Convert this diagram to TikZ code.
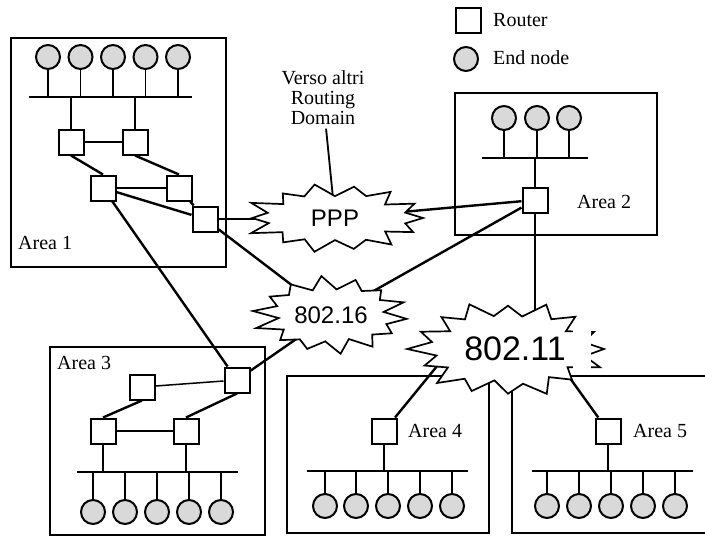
\documentclass[tikz,border=0pt]{standalone}
\usepackage{fontspec}
\setmainfont{Liberation Serif}
\newfontfamily\netfont{Liberation Sans}
\usetikzlibrary{backgrounds}

\begin{document}
\begin{tikzpicture}[x=1pt,y=-1pt,
  router/.style={draw,fill=white,line width=2pt,minimum size=25pt,inner sep=0pt},
  endnode/.style={circle,draw,fill=black!15,line width=2pt,minimum size=24pt,inner sep=0pt},
  areabox/.style={line width=1.6pt},
  label/.style={anchor=west,inner sep=0pt,font=\fontsize{20}{20}\selectfont},
  link/.style={line width=2.4pt},
  thinlink/.style={line width=1.5pt},
  bus/.style={line width=2.8pt},
  stem/.style={line width=1.8pt},
  net/.style={draw,fill=white,line width=1.7pt,line join=miter},
  netname/.style={inner sep=0pt,font=\netfont\fontsize{#1}{#1}\selectfont}]
\useasboundingbox (0,0) rectangle (705,536);

% legend
\node[router] (keyrouter) at (468,20) {};
\node[label] (keyroutertext) at (493,20) {Router};
\node[endnode] (keyend) at (466,59) {};
\node[label] (keyendtext) at (493,58) {End node};

% area 1
\foreach \x [count=\i] in {48,80.5,113,145.5,178}
  \node[endnode] (a1e\i) at (\x,57) {};
\coordinate (bus1w) at (29,97);
\coordinate (bus1e) at (192,97);
\node[router] (a1r1) at (71,142) {};
\node[router] (a1r2) at (135,142) {};
\node[router] (a1r3) at (103,188) {};
\node[router] (a1r4) at (179,188) {};
\node[router] (a1r5) at (205,219) {};
\node[label] (area1) at (18,243) {Area 1};

% area 2
\foreach \x [count=\i] in {504,537,569}
  \node[endnode] (a2e\i) at (\x,118) {};
\coordinate (bus2w) at (482,158);
\coordinate (bus2e) at (588,158);
\node[router] (a2r1) at (535,200) {};
\node[label] (area2) at (577,202) {Area 2};

% area 3
\node[router] (a3r1) at (142,387) {};
\node[router] (a3r2) at (237,380) {};
\node[router] (a3r3) at (103,431) {};
\node[router] (a3r4) at (186,431) {};
\coordinate (bus3w) at (77,472);
\coordinate (bus3e) at (238,472);
\foreach \x [count=\i] in {93,125,157,189,221}
  \node[endnode] (a3e\i) at (\x,512) {};
\node[label] (area3) at (57,363) {Area 3};

% area 4
\node[router] (a4r1) at (384,431) {};
\node[label] (area4) at (408,431) {Area 4};
\coordinate (bus4w) at (307,471);
\coordinate (bus4e) at (468,471);
\foreach \x [count=\i] in {325,356,388,420,452}
  \node[endnode] (a4e\i) at (\x,506) {};

% area 5
\node[router] (a5r1) at (608,431) {};
\node[label] (area5) at (633,431) {Area 5};
\coordinate (bus5w) at (532,471);
\coordinate (bus5e) at (693,471);
\foreach \x [count=\i] in {547,579,611,643,675}
  \node[endnode] (a5e\i) at (\x,506) {};

% networks
\draw[net] plot[samples at={0,...,27}]
  ({335+(88-20*mod(\x,2))*cos(\x*180/14)*(1+0.06*sin(\x*97))},
   {218+(33-10*mod(\x,2))*sin(\x*180/14)*(1+0.06*sin(\x*97))}) -- cycle;
\node[netname=24] (ppp) at (335,218) {PPP};
\draw[net] plot[samples at={0,...,27}]
  ({331+(76-20*mod(\x,2))*cos(\x*180/14+6)*(1+0.06*sin(\x*131))},
   {315+(37-10*mod(\x,2))*sin(\x*180/14+6)*(1+0.06*sin(\x*131))}) -- cycle;
\node[netname=24] (wimax) at (331,315) {802.16};
\draw[net] plot[samples at={0,...,31}]
  ({508+(96-22*mod(\x,2))*cos(\x*180/16)*(1+0.06*sin(\x*71))},
   {349+(46-12*mod(\x,2))*sin(\x*180/16)*(1+0.06*sin(\x*71))}) -- cycle;
\fill[white] (573,325) rectangle (591,373);
\node[netname=34] (wifi) at (515,349) {802.11};
\coordinate (wifi4) at (451,349);
\coordinate (wifi5) at (549,349);

\node[align=center,font=\fontsize{20}{20}\selectfont] (verso) at (323,98)
  {Verso altri\\Routing\\Domain};

\begin{scope}[on background layer]
\draw[areabox] (11,38) rectangle (226,267);
\draw[areabox] (455,93) rectangle (657,235);
\draw[areabox] (50,347) rectangle (265,535);
\draw[areabox] (287,376) rectangle (489,533);
\draw[areabox] (512,376) rectangle (740,533);

\draw[bus] (bus1w) -- (bus1e);
\draw[bus] (bus2w) -- (bus2e);
\draw[bus] (bus3w) -- (bus3e);
\draw[bus] (bus4w) -- (bus4e);
\draw[bus] (bus5w) -- (bus5e);
\foreach \i in {1,...,5} {
  \draw[stem] (a1e\i) -- (a1e\i |- bus1w);
  \draw[stem] (a3e\i) -- (a3e\i |- bus3w);
  \draw[stem] (a4e\i) -- (a4e\i |- bus4w);
  \draw[stem] (a5e\i) -- (a5e\i |- bus5w);
}
\foreach \i in {1,2,3}
  \draw[stem] (a2e\i) -- (a2e\i |- bus2w);

\draw[stem] (a1r1) -- (a1r1 |- bus1w);
\draw[stem] (a1r2) -- (a1r2 |- bus1w);
\draw[stem] (a2r1) -- (a2r1 |- bus2w);
\draw[stem] (a3r3) -- (a3r3 |- bus3w);
\draw[stem] (a3r4) -- (a3r4 |- bus3w);
\draw[stem] (a4r1) -- (a4r1 |- bus4w);
\draw[stem] (a5r1) -- (a5r1 |- bus5w);

\draw[thinlink] (a1r1) -- (a1r2);
\draw[thinlink] (a1r3) -- (a1r4);
\draw[link] (a1r1.south) -- (a1r3.north);
\draw[link] (a1r2.south) -- (a1r4.north);
\draw[link] (a1r3) -- (a1r5);
\draw[link] (a1r4) -- (a1r5);
\draw[link] (a1r3) -- (a3r2);
\draw[link] (a1r5) -- (a1r5 -| ppp);
\draw[link] (a1r5) -- (wimax);

\draw[link] (a2r1) -- (ppp);
\draw[link] (a2r1) -- (wimax);
\draw[link] (a2r1) -- (a2r1 |- wifi);

\draw[thinlink] (a3r1) -- (a3r2);
\draw[thinlink] (a3r3) -- (a3r4);
\draw[link] (a3r1.south) -- (a3r3.north);
\draw[link] (a3r2.south) -- (a3r4.north);
\draw[link] (a3r2) -- (wimax);

\draw[link] (a4r1) -- (wifi4);
\draw[link] (a5r1) -- (wifi5);
\draw[stem] (verso) -- (ppp);
\end{scope}
\end{tikzpicture}
\end{document}
